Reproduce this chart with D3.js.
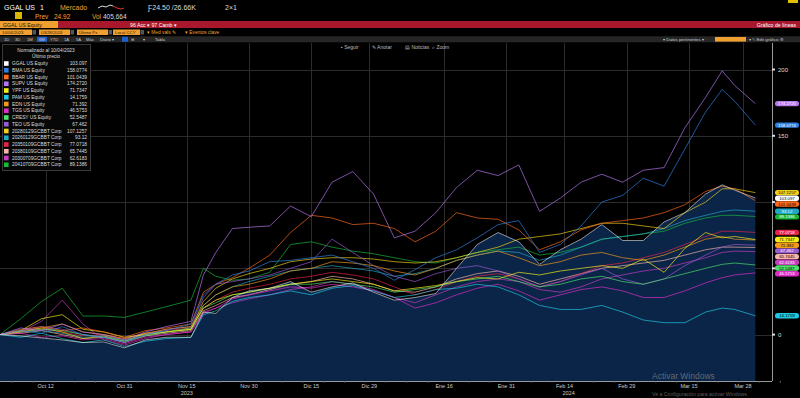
<!DOCTYPE html>
<html><head><meta charset="utf-8">
<script src="https://cdn.jsdelivr.net/npm/d3@7"></script>
<style>
html,body{margin:0;padding:0;background:#000;overflow:hidden}
svg{display:block;font-family:"Liberation Sans",Arial,sans-serif}
</style></head><body>
<svg id="c" width="800" height="398"></svg>
<script>
// ---------- DATA ----------
const dates = ["2023-10-01","2023-10-06","2023-10-11","2023-10-16","2023-10-21","2023-10-26","2023-10-31",
  "2023-11-05","2023-11-10","2023-11-16","2023-11-19","2023-11-22","2023-11-26","2023-11-30",
  "2023-12-05","2023-12-10","2023-12-15","2023-12-20","2023-12-25","2023-12-30",
  "2024-01-04","2024-01-09","2024-01-14","2024-01-19","2024-01-24","2024-01-29",
  "2024-02-03","2024-02-08","2024-02-13","2024-02-18","2024-02-23","2024-02-28",
  "2024-03-04","2024-03-09","2024-03-14","2024-03-19","2024-03-23","2024-03-26","2024-03-31"];

const ggal  = [0,-1,-2.5,-4,-6,-5.5,-10,-4,-2,-2, 17,16,28,33,35,40,32,36,39,32, 26,28,31,50,68,77,70,53,64,72, 83,71,71,85,92,106,113,109,103.097];
const bma   = [0,3,1,6,0,-2,-6,0,3,8, 30,38,45,48,55,56,58,60,55,50, 41,49,58,64,73,83,86,62,68,82, 100,105,118,112,140,168,185,176,158.0774];
const bbar  = [0,4,6,3,5,2,-2,3,5,8, 32,38,43,50,60,77,90,88,83,84, 80,70,78,92,88,87,79,64,70,79, 84,86,88,92,98,108,112,110,101.0439];
const supv  = [0,5,3,8,2,0,-4,2,6,10, 45,62,80,81,82,97,89,115,123,106, 73,78,92,111,124,120,128,93,103,115, 121,115,124,126,156,179,199,188,174.272];
const ypf   = [0,3,12,15,4,2,-2,0,2,4, 20,26,30,32,35,38,40,42,40,38, 33,35,37,40,43,42,47,45,48,50, 52,50,57,47,65,77,73,74,71.7347];
const pam   = [0,-2,1,-3,-6,-4,-9,-5,-3,-2, 15,18,25,28,30,33,30,35,37,33, 28,30,34,35,38,36,30,22,19,19, 22,17,11,9,9,17,20,19,14.1759];
const edn   = [0,2,5,8,2,0,-3,1,4,6, 22,30,36,38,42,48,50,55,54,52, 48,45,50,56,60,63,58,52,55,60, 62,58,56,60,66,72,74,72,71.392];
const tgs   = [0,1,-2,-1,-4,-3,-7,-2,0,2, 16,20,27,30,33,36,35,38,36,33, 28,20,24,30,35,38,33,26,30,34, 36,33,28,28,33,39,43,45,46.5753];
const cresy = [0,2,4,3,0,-2,-5,-1,2,5, 20,24,30,32,35,38,38,40,38,36, 32,34,36,40,42,44,40,36,38,42, 44,40,38,42,46,50,53,54,52.5487];
const teo   = [0,3,6,4,0,-2,-5,0,4,6, 28,38,40,42,45,50,55,72,62,52, 44,40,46,50,52,48,42,36,40,45, 50,42,38,42,52,60,66,68,67.462];
const bond28  = [0,3,5,2,-3,-1,-5,1,2,4, 25,35,42,46,50,55,57,58,58,57, 55,54,55,58,62,66,72,74,76,80, 84,84,82,80,92,100,110,110,107.1257];
const bond26  = [0,2,3,1,-2,-1,-4,0,2,4, 22,30,36,40,44,48,50,52,50,48, 44,46,50,56,60,63,62,56,60,66, 72,74,76,80,86,90,93,94,93.12];
const bond35  = [0,2,4,2,-1,0,-3,1,3,5, 20,26,32,35,38,42,44,47,45,42, 36,30,34,40,44,46,42,36,40,46, 52,54,58,62,68,74,78,78,77.0718];
const bond38  = [0,1,3,0,-3,-2,-6,-1,1,3, 18,22,28,30,34,38,40,44,42,38, 33,32,36,42,46,48,44,38,42,46, 50,52,54,56,60,64,66,66,65.7445];
const bond30  = [0,2,10,26,8,-4,-8,-3,0,2, 17,20,24,27,30,34,36,40,38,34, 28,24,30,36,40,42,40,34,32,36, 42,45,48,50,54,58,62,63,62.6183];
const bond41  = [0,12,25,35,14,14,13,17,21,26, 50,44,41,42,47,68,70,66,63,61, 58,55,54,58,62,64,66,60,62,66, 72,74,76,78,84,88,90,90,89.1386];

const seriesNames = ["GGAL US Equity","BMA US Equity","BBAR US Equity","SUPV US Equity","YPF US Equity",
  "PAM US Equity","EDN US Equity","TGS US Equity","CRESY US Equity","TEO US Equity",
  "20280129GCBBT Corp","20260129GCBBT Corp","20350109GCBBT Corp","20380109GCBBT Corp","20300709GCBBT Corp","20410709GCBBT Corp"];
const seriesValues = [ggal,bma,bbar,supv,ypf,pam,edn,tgs,cresy,teo,bond28,bond26,bond35,bond38,bond30,bond41];
const lastPriceLabels = ["103.097","158.0774","101.0439","174.2720","71.7347","14.1759","71.392","46.5753",
  "52.5487","67.462","107.1257","93.12","77.0718","65.7445","62.6183","89.1386"];
const seriesColors = ["#ffffff","#2f80e0","#ff6a1a","#b678f0","#f2ee1a","#1ec8e0","#f29a1e","#e02cc8",
  "#4ee06a","#9a5ad0","#f0d21a","#20a8c8","#e8224a","#f8b4a8","#c83cc0","#18b838"];

const yTicks = [0,50,100,150,200];
const xTickDates = ["2023-10-12","2023-10-31","2023-11-15","2023-11-30","2023-12-15","2023-12-29",
  "2024-01-16","2024-01-31","2024-02-14","2024-02-29","2024-03-15","2024-03-28"];
const monthsEs = ["Ene","Feb","Mar","Abr","May","Jun","Jul","Ago","Sep","Oct","Nov","Dic"];
const yearLabels = [["2023","2023-11-15"],["2024","2024-02-15"]];

// ---------- DRAW ----------
const svg = d3.select("#c");
const W = 800, H = 398;
const parse = d3.timeParse("%Y-%m-%d");
svg.append("rect").attr("width",W).attr("height",H).attr("fill","#000");

const orange = "#f0a030";
// Header row 1
const hdr = svg.append("g").attr("font-size",7);
hdr.append("text").attr("x",4).attr("y",10).attr("fill","#fff").text("GGAL US");
hdr.append("text").attr("x",40).attr("y",10).attr("fill","#fff").text("1");
hdr.append("text").attr("x",60).attr("y",10).attr("fill",orange).text("Mercado");
hdr.append("path").attr("d","M98,8 L102,6 L106,7 L110,5 L113,6").attr("stroke","#ddd").attr("fill","none");
hdr.append("path").attr("d","M113,6 L117,8 L121,9 L124,8").attr("stroke","#e03030").attr("fill","none");
hdr.append("text").attr("x",148).attr("y",10).attr("fill","#ddd").text("Ƒ24.50 /26.66K");
hdr.append("text").attr("x",225).attr("y",10).attr("fill","#ddd").text("2×1");
hdr.append("rect").attr("x",788).attr("y",0).attr("width",10).attr("height",3).attr("fill","#e0c000");
// Header row 2
hdr.append("rect").attr("x",15).attr("y",12).attr("width",7).attr("height",7).attr("fill","#d8b800");
hdr.append("text").attr("x",35).attr("y",18.5).attr("fill",orange).attr("font-size",6.5).text("Prev");
hdr.append("text").attr("x",54).attr("y",18.5).attr("fill",orange).attr("font-size",6.5).text("24.92");
hdr.append("text").attr("x",92).attr("y",18.5).attr("fill",orange).attr("font-size",6.5).text("Vol");
hdr.append("text").attr("x",103).attr("y",18.5).attr("fill","#ddd").attr("font-size",6.5).text("405,664");
// Row 3
hdr.append("rect").attr("x",0).attr("y",21).attr("width",58).attr("height",7).attr("fill",orange);
hdr.append("rect").attr("x",58).attr("y",21).attr("width",742).attr("height",7).attr("fill","#a8172c");
hdr.append("text").attr("x",3).attr("y",26.6).attr("font-size",5.2).attr("fill","#201000").text("GGAL US Equity");
hdr.append("text").attr("x",130).attr("y",26.6).attr("font-size",5.2).attr("fill","#fff").text("96 Acc ▾   97 Camb ▾");
hdr.append("text").attr("x",796).attr("y",26.6).attr("font-size",5.2).attr("fill","#fff").attr("text-anchor","end").text("Gráfico de líneas");
// Row 4
[[0,32,"10/04/2023"],[39,31,"03/28/2024"],[77,31,"Último Px"],[113,27,"Local CCY"]].forEach(b=>{
  hdr.append("rect").attr("x",b[0]).attr("y",29.5).attr("width",b[1]).attr("height",5.5).attr("fill",orange);
  hdr.append("text").attr("x",b[0]+2).attr("y",34).attr("font-size",4.3).attr("fill","#301800").text(b[2]);
  hdr.append("rect").attr("x",b[0]+b[1]+0.5).attr("y",30).attr("width",3.5).attr("height",4.5).attr("fill","#555");
});
hdr.append("text").attr("x",147).attr("y",34.3).attr("font-size",4.8).attr("fill",orange).text("▾ Med vals ✎");
hdr.append("text").attr("x",185).attr("y",34.3).attr("font-size",4.8).attr("fill",orange).text("▾ Eventos clave");
// Row 5
hdr.append("rect").attr("x",0).attr("y",36.3).attr("width",800).attr("height",6).attr("fill","#262626");
hdr.append("rect").attr("x",37).attr("y",36.8).attr("width",10).attr("height",5).attr("fill","#2060c8");
hdr.append("rect").attr("x",122).attr("y",36.8).attr("width",6).attr("height",5).attr("fill","#2060c8");
[["1D",4],["3D",15],["1M",27],["6M",39],["YTD",50],["1A",64],["5A",76],["Máx",86],["Diario ▾",100],["⊞",131],["▾",143],["Tabla",155]]
  .forEach(t=>hdr.append("text").attr("x",t[1]).attr("y",41).attr("font-size",4.2).attr("fill","#ccc").text(t[0]));
hdr.append("text").attr("x",663).attr("y",41).attr("font-size",4.4).attr("fill","#ccc").text("▾ Datos pertinentes ▾");
hdr.append("rect").attr("x",715).attr("y",37).attr("width",31).attr("height",4.6).attr("fill",orange);
hdr.append("text").attr("x",749).attr("y",41).attr("font-size",4.4).attr("fill","#ccc").text("▾ ✎ Edit gráfico  ⚙");

// ---------- CHART ----------
const plotTop = 43, plotBottom = 381, plotLeft = 0, plotRight = 772;
const x = d3.scaleTime().domain([parse("2023-10-01"), parse("2024-04-04")]).range([plotLeft, plotRight]);
const y = d3.scaleLinear().domain([-35, 220]).range([plotBottom, plotTop]);
const dts = dates.map(parse);

const grid = svg.append("g").attr("stroke","#2c2c2c").attr("stroke-width",1);
xTickDates.forEach(d=>{
  const xx = Math.round(x(parse(d)))+0.5;
  grid.append("line").attr("x1",xx).attr("x2",xx).attr("y1",plotTop).attr("y2",plotBottom);
});
yTicks.forEach(v=>{
  const yy = Math.round(y(v))+0.5;
  grid.append("line").attr("x1",plotLeft).attr("x2",plotRight).attr("y1",yy).attr("y2",yy);
});

// chart toolbar
const tb = svg.append("g").attr("font-size",5).attr("fill","#bbb");
[["▪ Seguir",341],["✎ Anotar",372],["▤ Noticias",405],["⌕ Zoom",432]].forEach(t=>tb.append("text").attr("x",t[1]).attr("y",48.5).text(t[0]));

// GGAL area
const pts = s => s.map((v,i)=>({d:dts[i],v}));
svg.append("path").datum(pts(ggal))
  .attr("d", d3.area().x(p=>x(p.d)).y0(plotBottom).y1(p=>y(p.v)))
  .attr("fill","#0a2548");

const line = d3.line().x(p=>x(p.d)).y(p=>y(p.v));
const gl = svg.append("g").attr("fill","none");
const order = [15,14,13,12,11,10,9,8,7,6,5,4,2,1,3,0];
order.forEach(i=>{
  gl.append("path").datum(pts(seriesValues[i])).attr("d",line)
    .attr("stroke",seriesColors[i]).attr("stroke-width",1)
    .attr("stroke-opacity", i===0 ? 0.55 : 0.68).attr("stroke-linejoin","round");
});

// right value labels positions (stacked)
const lab = seriesValues.map((s,i)=>({i,v:s[s.length-1]})).sort((a,b)=>b.v-a.v);
let prev = -Infinity;
lab.forEach(o=>{ o.ly = Math.max(y(o.v), prev+5.7); prev = o.ly; });

// axes
const ax = svg.append("g");
ax.append("line").attr("x1",plotRight+0.5).attr("x2",plotRight+0.5).attr("y1",plotTop).attr("y2",plotBottom).attr("stroke","#9a9a9a");
ax.append("line").attr("x1",plotLeft).attr("x2",plotRight).attr("y1",plotBottom+0.5).attr("y2",plotBottom+0.5).attr("stroke","#9a9a9a");
yTicks.forEach(v=>{
  ax.append("rect").attr("x",plotRight).attr("y",y(v)-1).attr("width",3).attr("height",2).attr("fill","#ddd");
  const covered = lab.some(o=>Math.abs(o.ly - y(v)) < 7);   // hidden behind value tags, as in the terminal
  if (!covered) ax.append("text").attr("x",plotRight+6).attr("y",y(v)+2).attr("font-size",6).attr("fill","#ddd").text(v);
});
d3.range(0,40).forEach(k=>{
  const d = d3.timeDay.offset(parse("2023-10-04"), k*5);
  ax.append("line").attr("x1",x(d)).attr("x2",x(d)).attr("y1",plotBottom).attr("y2",plotBottom+1.5).attr("stroke","#777");
});
xTickDates.forEach(s=>{
  const d = parse(s);
  ax.append("text").attr("x",x(d)).attr("y",387.5).attr("font-size",5.5).attr("fill","#ccc")
    .attr("text-anchor","middle").text(monthsEs[d.getMonth()]+" "+d.getDate());
});
yearLabels.forEach(t=>ax.append("text").attr("x",x(parse(t[1]))).attr("y",394.5).attr("font-size",5.5)
  .attr("fill","#ccc").attr("text-anchor","middle").text(t[0]));

// value tags
const lg = svg.append("g");
lab.forEach(o=>{
  lg.append("rect").attr("x",775).attr("y",o.ly-2.7).attr("width",24).attr("height",5.4).attr("rx",2.5)
    .attr("fill",seriesColors[o.i]);
  const dark = ["#2f80e0","#b678f0","#9a5ad0","#c83cc0","#e02cc8","#e8224a","#18b838","#20a8c8"].includes(seriesColors[o.i]);
  lg.append("text").attr("x",787).attr("y",o.ly+1.5).attr("font-size",4.3).attr("text-anchor","middle")
    .attr("fill", dark ? "#fff" : "#000").text(lastPriceLabels[o.i]);
});

// legend
const leg = svg.append("g").attr("font-size",4.8);
leg.append("rect").attr("x",2.5).attr("y",44.5).attr("width",88).attr("height",126).attr("fill","#070707").attr("stroke","#3a3a3a");
leg.append("text").attr("x",46).attr("y",52).attr("text-anchor","middle").attr("fill","#ddd").text("Normalizado al 10/04/2023");
leg.append("text").attr("x",46).attr("y",58).attr("text-anchor","middle").attr("fill","#ddd").text("Último precio");
seriesNames.forEach((n,i)=>{
  const yy = 63.5 + i*6.75;
  leg.append("rect").attr("x",4).attr("y",yy-2.3).attr("width",4.6).attr("height",4.6).attr("fill",seriesColors[i]);
  leg.append("text").attr("x",12).attr("y",yy+1.7).attr("fill","#ddd").text(n);
  leg.append("text").attr("x",87).attr("y",yy+1.7).attr("fill","#ddd").attr("text-anchor","end").text(lastPriceLabels[i]);
});

// watermark
svg.append("text").attr("x",652).attr("y",379).attr("font-size",8.5).attr("fill","#8a8a8a").attr("fill-opacity",0.7).text("Activar Windows");
svg.append("text").attr("x",652).attr("y",395.5).attr("font-size",5.2).attr("fill","#8a8a8a").attr("fill-opacity",0.7).text("Ve a Configuración para activar Windows.");
</script>
</body></html>
